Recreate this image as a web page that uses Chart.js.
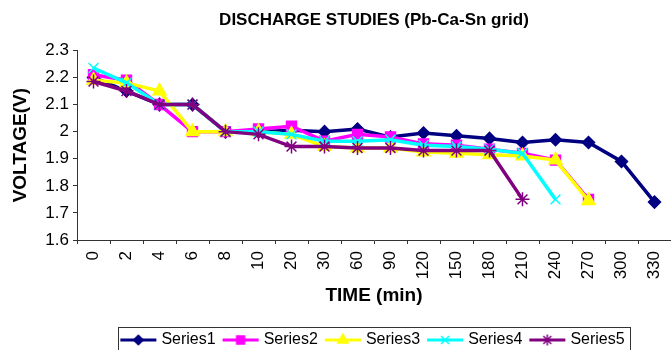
<!DOCTYPE html>
<html>
<head>
<meta charset="utf-8">
<title>Discharge studies</title>
<script src="https://cdn.jsdelivr.net/npm/chart.js"></script>
<style>
	body { margin: 0; background: #fff; }
	#discharge { display: block; }
</style>
</head>
<body>
<canvas id="discharge" width="671" height="350"></canvas>
<script>
var times = ['0', '2', '4', '6', '8', '10', '20', '30', '60', '90', '120', '150', '180', '210', '240', '270', '300', '330'];
var yTicks = [1.6, 1.7, 1.8, 1.9, 2.0, 2.1, 2.2, 2.3];

var series1 = [2.20, 2.15, 2.10, 2.10, 2.00, 2.00, 2.005, 2.00, 2.01, 1.98, 1.995, 1.985, 1.975, 1.96, 1.97, 1.96, 1.89, 1.74];
var series2 = [2.21, 2.19, 2.10, 2.00, 2.00, 2.01, 2.02, 1.965, 1.99, 1.98, 1.955, 1.95, 1.935, 1.92, 1.895, 1.75];
var series3 = [2.19, 2.18, 2.15, 2.00, 2.00, 2.00, 1.99, 1.945, 1.94, 1.94, 1.925, 1.92, 1.915, 1.91, 1.895, 1.745];
var series4 = [2.235, 2.18, 2.10, 2.10, 2.00, 2.00, 1.99, 1.965, 1.965, 1.97, 1.95, 1.945, 1.935, 1.92, 1.75];
var series5 = [2.185, 2.15, 2.10, 2.10, 2.00, 1.99, 1.945, 1.945, 1.94, 1.94, 1.93, 1.93, 1.93, 1.75];

var font = "'Liberation Sans', Arial, sans-serif";

// line + marker sample for the legend
function legendIcon(color, style, radius) {
	var c = document.createElement('canvas');
	c.width = 38;
	c.height = 16;
	var g = c.getContext('2d');
	g.strokeStyle = color;
	g.lineWidth = 3;
	g.beginPath();
	g.moveTo(1, 8);
	g.lineTo(37, 8);
	g.stroke();
	g.fillStyle = color;
	g.lineWidth = 1.5;
	Chart.helpers.drawPoint(g, {pointStyle: style, radius: radius * 0.8, borderWidth: 1.5}, 19, 8);
	return c;
}

function makeSet(label, data, color, style, radius, order) {
	return {
		label: label,
		data: data,
		borderColor: color,
		backgroundColor: color,
		borderWidth: 3.5,
		pointStyle: style,
		pointRadius: radius,
		pointBorderWidth: 1.5,
		pointBackgroundColor: color,
		pointBorderColor: color,
		legendIcon: legendIcon(color, style, radius),
		order: order,
		tension: 0,
		fill: false
	};
}

var legendBorder = {
	id: 'legendBorder',
	afterDraw: function(chart) {
		var boxes = chart.legend.legendHitBoxes;
		if (!boxes || !boxes.length) return;
		var first = boxes[0], last = boxes[boxes.length - 1];
		var ctx = chart.ctx;
		ctx.save();
		ctx.strokeStyle = '#333';
		ctx.lineWidth = 1;
		var x1 = Math.round(first.left - 5) + 0.5;
		var x2 = Math.round(last.left + last.width + 5) + 0.5;
		var y1 = Math.round(first.top - 5) + 0.5;
		ctx.strokeRect(x1, y1, x2 - x1, 40);
		ctx.restore();
	}
};

var ctx = document.getElementById('discharge');

var chart = new Chart(ctx, {
	type: 'line',
	data: {
		labels: times,
		datasets: [
			makeSet('Series1', series1, '#000080', 'rectRot', 6, 4),
			makeSet('Series2', series2, '#FF00FF', 'rect', 7, 3),
			makeSet('Series3', series3, '#FFFF00', 'triangle', 7.5, 2),
			makeSet('Series4', series4, '#00FFFF', 'crossRot', 7, 1),
			makeSet('Series5', series5, '#800080', 'star', 7, 0)
		]
	},
	options: {
		responsive: false,
		animation: false,
		events: [],
		layout: { autoPadding: false, padding: { left: 0, right: 0, top: 0, bottom: -8 } },
		plugins: {
			title: {
				display: true,
				text: 'DISCHARGE STUDIES (Pb-Ca-Sn grid)',
				fullSize: false,
				color: '#000',
				font: { family: font, size: 17, weight: 'bold' },
				padding: { top: 10, bottom: 20 }
			},
			legend: {
				position: 'bottom',
				fullSize: false,
				labels: {
					usePointStyle: true,
					pointStyleWidth: 30,
					boxHeight: 16,
					padding: 10,
					color: '#000',
					font: { family: font, size: 16 },
					generateLabels: function(chart) {
						return chart.data.datasets.map(function(ds, i) {
							return {
								text: ds.label,
								pointStyle: ds.legendIcon,
								fillStyle: ds.borderColor,
								strokeStyle: ds.borderColor,
								lineWidth: 0,
								hidden: false,
								datasetIndex: i
							};
						});
					}
				}
			},
			tooltip: { enabled: false }
		},
		scales: {
			x: {
				offset: true,
				afterFit: function(scale) {
					scale.height = 82;
					scale.paddingLeft = 0;
					scale.paddingRight = 0;
				},
				grid: {
					offset: true,
					drawOnChartArea: false,
					drawTicks: true,
					tickLength: 4,
					color: '#333'
				},
				border: { color: '#333', width: 1 },
				ticks: {
					minRotation: 90,
					maxRotation: 90,
					autoSkip: false,
					padding: 7,
					color: '#000',
					font: { family: font, size: 17 }
				},
				title: {
					display: true,
					text: 'TIME (min)',
					color: '#000',
					font: { family: font, size: 19, weight: 'bold' },
					padding: { top: 4, bottom: 15 }
				}
			},
			y: {
				min: yTicks[0],
				max: yTicks[yTicks.length - 1],
				afterFit: function(scale) { scale.width = 77; },
				afterBuildTicks: function(scale) {
					scale.ticks = yTicks.map(function(v) { return { value: v }; });
				},
				grid: {
					drawOnChartArea: false,
					drawTicks: true,
					tickLength: 4,
					color: '#333'
				},
				border: { color: '#333', width: 1 },
				ticks: {
					padding: 4,
					color: '#000',
					font: { family: font, size: 17 },
					callback: function(v) { return String(+v.toFixed(1)); }
				},
				title: {
					display: true,
					text: 'VOLTAGE(V)',
					color: '#000',
					font: { family: font, size: 19, weight: 'bold' },
					padding: { top: 9, bottom: 4 }
				}
			}
		}
	},
	plugins: [legendBorder]
});
</script>
</body>
</html>
